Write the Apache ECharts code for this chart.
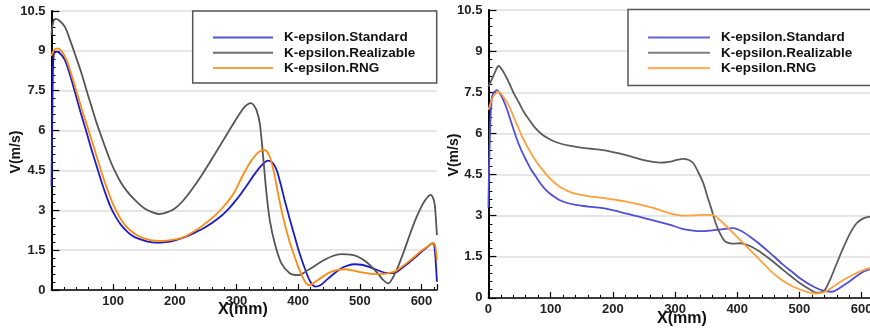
<!DOCTYPE html>
<html>
<head>
<meta charset="utf-8">
<script src="https://cdn.jsdelivr.net/npm/echarts@6/dist/echarts.min.js"></script>
<style>
html,body{margin:0;padding:0;background:#fff;}
#chart{width:870px;height:331px;}
</style>
</head>
<body>
<div id="chart"></div>
<script>
// ---- data (X in mm, V in m/s) ----
const seriesNames = ['K-epsilon.Standard', 'K-epsilon.Realizable', 'K-epsilon.RNG'];
const yTicks = [0, 1.5, 3, 4.5, 6, 7.5, 9, 10.5];
const xTicks = [0, 100, 200, 300, 400, 500, 600];

const leftStandard = [[0,3.9],[1.5,7.0],[3.5,8.85],[8,8.97],[14,8.9],[21.6,8.66],[30,8.1],[38,7.45],[47,6.7],[56,6.0],[64,5.35],[72,4.75],[80,4.15],[88,3.6],[96,3.12],[104,2.76],[113,2.44],[124,2.17],[134,2.0],[145,1.9],[156,1.82],[169,1.78],[185,1.8],[199,1.86],[215,1.98],[231,2.14],[250,2.37],[269,2.67],[285,3.0],[300,3.4],[315,3.88],[330,4.38],[341,4.7],[351,4.87],[358,4.8],[365,4.52],[372,3.95],[378,3.39],[386,2.7],[394.5,2.0],[402,1.4],[411,0.8],[420,0.3],[428,0.13],[436,0.18],[448,0.42],[460,0.65],[470,0.82],[480,0.92],[492,0.97],[503,0.95],[514,0.88],[525,0.78],[535,0.69],[545,0.64],[555,0.64],[567,0.8],[578,1.0],[590,1.23],[600,1.44],[610,1.63],[617.8,1.76],[621,1.65],[625,0.31]];
const leftRealizable = [[0,9.6],[2,10.0],[6.5,10.2],[12,10.15],[21.6,9.91],[32,9.28],[40,8.75],[48.6,8.16],[57,7.5],[65,6.9],[73,6.3],[81,5.77],[89,5.25],[97,4.77],[105,4.37],[113.5,4.01],[122,3.73],[130,3.51],[140,3.28],[151,3.07],[162,2.94],[174,2.86],[187,2.92],[200,3.07],[213,3.35],[227,3.76],[243,4.3],[259,4.89],[275,5.5],[292,6.15],[304,6.6],[313.5,6.9],[319,7.0],[323,7.03],[327,6.98],[332.4,6.77],[337.8,6.27],[343.2,5.02],[348.6,3.64],[354,2.63],[362,1.76],[372.9,1.0],[386.4,0.63],[400,0.56],[416,0.75],[437.8,1.07],[455,1.27],[470,1.35],[485,1.33],[497,1.25],[508,1.1],[519,0.88],[530,0.6],[537.8,0.38],[546,0.25],[552,0.4],[562,0.88],[573,1.55],[583.8,2.26],[593,2.8],[602.7,3.26],[610,3.5],[615,3.58],[619,3.45],[621.6,3.2],[625,2.07]];
const leftRNG = [[0,8.8],[3,9.0],[9.7,9.09],[16,9.0],[24.3,8.66],[33,8.05],[43,7.28],[51,6.66],[59.5,6.05],[68,5.42],[76,4.82],[84,4.22],[92,3.7],[100,3.22],[109,2.8],[118,2.48],[128,2.24],[138,2.07],[149,1.95],[160,1.88],[175,1.85],[190,1.87],[205,1.92],[218,2.03],[231,2.2],[247,2.46],[264,2.78],[280,3.16],[295,3.62],[310,4.3],[322,4.8],[332,5.1],[338,5.22],[344,5.27],[350,5.2],[355,4.95],[361,4.4],[367.6,3.6],[375,2.8],[383.8,2.0],[392,1.4],[400,0.88],[408,0.45],[414,0.22],[418,0.18],[424,0.24],[432,0.38],[443,0.55],[454,0.69],[465,0.76],[476,0.78],[490,0.73],[503,0.66],[518,0.61],[535,0.6],[547,0.64],[557,0.7],[568,0.87],[578,1.05],[590,1.28],[600,1.48],[611,1.66],[619,1.76],[622,1.7],[625,1.13]];

const rightStandard = [[0,3.3],[2,5.5],[5.8,7.34],[13.3,7.58],[20,7.4],[28.3,6.98],[36,6.45],[44.4,5.88],[52,5.43],[60.5,5.03],[68,4.7],[76.5,4.42],[84,4.16],[92.6,3.93],[103,3.73],[114,3.57],[127,3.46],[140.8,3.39],[160,3.33],[183.7,3.27],[203,3.18],[221,3.08],[242,2.96],[262,2.84],[277,2.75],[292,2.66],[312,2.52],[329,2.45],[343,2.43],[356,2.45],[375,2.5],[394,2.54],[408,2.42],[420.6,2.23],[434,2.0],[447.4,1.74],[461,1.47],[474,1.2],[488,0.95],[501,0.71],[515,0.5],[527.8,0.35],[540,0.25],[552,0.22],[564,0.35],[576,0.53],[590,0.76],[602.7,0.95],[614,1.05],[625,1.12]];
const rightRealizable = [[0,7.7],[2.6,7.83],[10,8.2],[16.5,8.46],[24,8.25],[33.6,7.83],[41,7.45],[49.7,7.1],[57,6.78],[65.8,6.49],[76,6.18],[87.3,5.94],[100,5.77],[114,5.64],[130,5.55],[146,5.49],[165,5.44],[183.7,5.39],[202,5.31],[221,5.21],[235,5.12],[248,5.03],[262,4.97],[275,4.93],[290,4.96],[303,5.03],[313,5.07],[322,5.03],[329.4,4.91],[337,4.6],[345.5,4.18],[352,3.7],[359,3.2],[365,2.75],[372.3,2.35],[380,2.07],[388.4,1.99],[396,1.98],[404.5,1.99],[412,1.96],[420.6,1.89],[434,1.72],[447.4,1.5],[461,1.26],[474,1.01],[488,0.76],[501,0.53],[515,0.33],[527.8,0.19],[535,0.2],[541,0.29],[550,0.7],[560,1.26],[571,1.85],[581.4,2.35],[592,2.72],[602.7,2.9],[613.4,2.96],[625,3.0]];
const rightRNG = [[0,6.85],[5,7.2],[10,7.42],[16.5,7.52],[25,7.3],[33.6,6.98],[41,6.58],[49.7,6.12],[57,5.75],[65.8,5.39],[76,5.0],[87.3,4.66],[100,4.33],[114,4.06],[127,3.9],[140.8,3.79],[160,3.71],[183.7,3.65],[203,3.58],[221,3.51],[242,3.41],[262,3.3],[277,3.19],[292,3.08],[305,3.02],[318,3.0],[330,3.01],[340,3.02],[352,3.03],[361.6,3.02],[369,2.9],[377.7,2.72],[391,2.42],[404.5,2.11],[418,1.8],[431.4,1.5],[445,1.18],[458,0.89],[471,0.66],[484.9,0.47],[498,0.33],[511.7,0.22],[525,0.16],[533,0.17],[541,0.22],[555,0.42],[570.6,0.65],[587,0.85],[602.7,1.01],[614,1.09],[625,1.15]];

const leftColors = ['#1c1cc4', '#555555', '#ff8a12'];
const rightColors = ['#4e4ed6', '#5c5c5c', '#ffa040'];
const leftLegendColors = ['#5555d0', '#707070', '#ffa040'];
const rightLegendColors = ['#6464d8', '#808080', '#ffb060'];

// ---- chart ----
const FONT = '"Liberation Sans", Arial, sans-serif';
const chart = echarts.init(document.getElementById('chart'), null, {renderer: 'canvas'});

function makeX(gridIndex, showMin) {
  return {
    type: 'value', gridIndex: gridIndex, min: 0, max: 625, interval: 100,
    axisLine: {show: true, onZero: false, lineStyle: {color: '#000', width: 1.5}},
    axisTick: {show: true, inside: true, length: 6, lineStyle: {color: '#000', width: 1.2}},
    minorTick: {show: true, splitNumber: 5, length: 3, lineStyle: {color: '#000', width: 1}},
    splitLine: {show: false},
    axisLabel: {
      show: true, margin: 5, color: '#222', fontWeight: 'bold', fontSize: 13, fontFamily: FONT,
      showMinLabel: showMin, showMaxLabel: true,
      formatter: function (v) { return xTicks.indexOf(v) >= 0 ? String(v) : ''; }
    }
  };
}
function makeY(gridIndex) {
  return {
    type: 'value', gridIndex: gridIndex, min: 0, max: 10.5, interval: 1.5,
    axisLine: {show: true, onZero: false, lineStyle: {color: '#000', width: 2}},
    axisTick: {show: true, inside: true, length: 8, lineStyle: {color: '#000', width: 1.2}},
    minorTick: {show: true, splitNumber: 5, length: 4, lineStyle: {color: '#000', width: 1}},
    splitLine: {show: true, lineStyle: {color: '#e6e6e6', width: 2}},
    axisLabel: {
      show: true, margin: 6, color: '#222', fontWeight: 'bold', fontSize: 13, fontFamily: FONT,
      formatter: function (v) { return yTicks.indexOf(v) >= 0 ? String(v) : ''; }
    }
  };
}
function makeSeries(name, data, color, idx) {
  return {
    name: name, type: 'line', xAxisIndex: idx, yAxisIndex: idx, data: data,
    symbol: 'none', showSymbol: false, smooth: 0.3, z: 3,
    lineStyle: {color: color, width: 1.8}, itemStyle: {color: color}
  };
}
function makeLegend(left, iconW, colors) {
  return {
    orient: 'vertical', left: left, top: 30.5, padding: 0, itemGap: 1.3,
    itemWidth: iconW, itemHeight: 12, z: 20, selectedMode: false,
    icon: 'path://M0,5 L60,5 L60,7 L0,7 Z',
    data: seriesNames.map(function (n, i) {
      return {name: n, itemStyle: {color: colors[i]}};
    }),
    textStyle: {color: '#111', fontWeight: 'bold', fontSize: 13.5, fontFamily: FONT, padding: [0, 0, 0, 6]}
  };
}

const series = [];
[leftStandard, leftRealizable, leftRNG].forEach(function (d, i) {
  series.push(makeSeries(seriesNames[i], d, leftColors[i], 0));
});
[rightStandard, rightRealizable, rightRNG].forEach(function (d, i) {
  series.push(makeSeries(seriesNames[i], d, rightColors[i], 1));
});

const option = {
  animation: false,
  backgroundColor: '#fff',
  textStyle: {fontFamily: FONT},
  grid: [
    {left: 51.5, top: 11, width: 385.4, height: 279, containLabel: false, outerBoundsMode: 'none'},
    {left: 488.4, top: 10.1, width: 388.8, height: 287.7, containLabel: false, outerBoundsMode: 'none'}
  ],
  xAxis: [makeX(0, false), makeX(1, true)],
  yAxis: [makeY(0), makeY(1)],
  legend: [makeLegend(213, 60, leftLegendColors), makeLegend(648, 62, rightLegendColors)],
  graphic: [
    {type: 'rect', z: 10, shape: {x: 192.7, y: 11, width: 244, height: 72},
     style: {fill: '#fff', stroke: '#555', lineWidth: 1.5}},
    {type: 'rect', z: 10, shape: {x: 628, y: 9.5, width: 260, height: 76},
     style: {fill: '#fff', stroke: '#555', lineWidth: 1.5}},
    {type: 'text', z: 10, x: 16, y: 152, rotation: Math.PI / 2,
     style: {text: 'V(m/s)', x: 0, y: 0, align: 'center', verticalAlign: 'middle', fill: '#111',
             font: 'bold 14px ' + FONT}},
    {type: 'text', z: 10, x: 454, y: 155, rotation: Math.PI / 2,
     style: {text: 'V(m/s)', x: 0, y: 0, align: 'center', verticalAlign: 'middle', fill: '#111',
             font: 'bold 14px ' + FONT}},
    {type: 'text', z: 10, x: 243, y: 310,
     style: {text: 'X(mm)', x: 0, y: 0, align: 'center', verticalAlign: 'middle', fill: '#111',
             font: 'bold 16px ' + FONT}},
    {type: 'text', z: 10, x: 682, y: 319,
     style: {text: 'X(mm)', x: 0, y: 0, align: 'center', verticalAlign: 'middle', fill: '#111',
             font: 'bold 16px ' + FONT}}
  ],
  series: series
};
chart.setOption(option);
</script>
</body>
</html>
